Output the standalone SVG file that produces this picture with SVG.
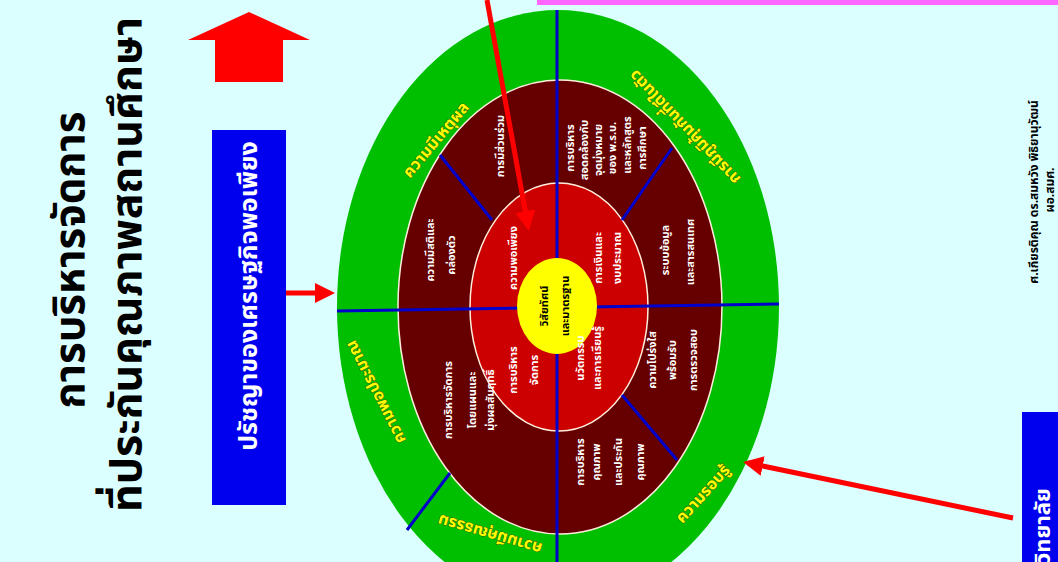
<svg xmlns="http://www.w3.org/2000/svg" width="1058" height="562" viewBox="0 0 1058 562">
<defs>
<style>
.t{font-family:"Noto Sans Thai","Noto Sans","DejaVu Sans",sans-serif;font-weight:bold;text-anchor:middle;dominant-baseline:central}
.title{fill:#000}
.w{font-size:11px;fill:#fff}
.y{font-size:16px;fill:#ffff00;stroke:#4a4a00;stroke-width:0.8px;paint-order:stroke}
.k{font-size:11px;fill:#000}
.bl{stroke:#0000cc;stroke-width:3;fill:none}
.ra{stroke:#ff0000;stroke-width:5;fill:none}
</style>
<marker id="ah" markerWidth="4" markerHeight="4" refX="3" refY="2" orient="auto" markerUnits="strokeWidth">
<path d="M0,0 L4,2 L0,4 z" fill="#ff0000"/>
</marker>
</defs>
<rect width="1058" height="562" fill="#dbffff"/>
<rect x="537" y="0" width="521" height="5" fill="#ff66ff"/>

<g id="title">
<text class="t title" style="font-size:42px" transform="translate(71,260) rotate(-90)">การบริหารจัดการ</text>
<text class="t title" style="font-size:43px;text-anchor:start" transform="translate(127,512) rotate(-90)">ที่ประกันคุณภาพสถานศึกษา</text>
</g>

<g id="up-arrow">
<path d="M188,40 L249,12 L310,40 L283,40 L283,82 L215,82 L215,40 z" fill="#ff0000"/>
</g>

<g id="philosophy-box">
<rect x="212" y="130" width="74" height="375" fill="#0000ee"/>
<text class="t" style="font-size:25px;fill:#fff" transform="translate(249,296) rotate(-90)">ปรัชญาของเศรษฐกิจพอเพียง</text>
</g>

<g id="wheel">
<ellipse cx="558" cy="307" rx="221" ry="297" fill="#00bf00"/>
<ellipse cx="560" cy="307" rx="162" ry="227" fill="#660000" stroke="#ffeedd" stroke-width="1.5"/>
<ellipse cx="559" cy="307" rx="89" ry="124" fill="#cc0000" stroke="#ffeedd" stroke-width="1.5"/>
</g>

<g id="dividers">
<line class="bl" x1="557" y1="10" x2="557" y2="562"/>
<line class="bl" x1="337" y1="311" x2="779" y2="304"/>
<line class="bl" x1="440" y1="155" x2="492" y2="220"/>
<line class="bl" x1="672" y1="148" x2="622" y2="220"/>
<line class="bl" x1="622" y1="395" x2="677" y2="460"/>
<line class="bl" x1="450" y1="473" x2="407" y2="530"/>
</g>

<g id="center">
<ellipse cx="557" cy="306" rx="40" ry="48" fill="#ffff00"/>
<text class="t k" transform="translate(544,306) rotate(-90)">วิสัยทัศน์</text>
<text class="t k" transform="translate(565,306) rotate(-90)">และมาตรฐาน</text>
</g>

<g id="green-ring-labels">
<text class="t y" transform="translate(436,140) rotate(-50)">ความมีเหตุผล</text>
<text class="t y" transform="translate(685,127) rotate(226)">การมีภูมิคุ้มกันที่ดีในตัว</text>
<text class="t y" transform="translate(376,392) rotate(-117)">ความพอประมาณ</text>
<text class="t y" transform="translate(490,534) rotate(196)">ความมีคุณธรรม</text>
<text class="t y" transform="translate(703,494) rotate(-48)">ความรอบรู้</text>
</g>

<g id="outer-sectors">
<g id="s-sati">
<text class="t w" transform="translate(430,250) rotate(-90)">ความมีสติและ</text>
<text class="t w" transform="translate(451,255) rotate(-90)">คล่องตัว</text>
</g>
<g id="s-participation">
<text class="t w" transform="translate(500,146) rotate(-90)">การมีส่วนร่วม</text>
</g>
<g id="s-law">
<text class="t w" transform="translate(570,148) rotate(-90)">การบริหาร</text>
<text class="t w" transform="translate(584,150) rotate(-90)">สอดคล้องกับ</text>
<text class="t w" transform="translate(598,150) rotate(-90)">จุดมุ่งหมาย</text>
<text class="t w" transform="translate(612,148) rotate(-90)">ของ พ.ร.บ.</text>
<text class="t w" transform="translate(627,145) rotate(-90)">และหลักสูตร</text>
<text class="t w" transform="translate(642,148) rotate(-90)">การศึกษา</text>
</g>
<g id="s-info">
<text class="t w" transform="translate(665,250) rotate(-90)">ระบบข้อมูล</text>
<text class="t w" transform="translate(690,252) rotate(-90)">และสารสนเทศ</text>
</g>
<g id="s-transparency">
<text class="t w" transform="translate(652,360) rotate(-90)">ความโปร่งใส</text>
<text class="t w" transform="translate(672,360) rotate(-90)">พร้อมรับ</text>
<text class="t w" transform="translate(693,360) rotate(-90)">การตรวจสอบ</text>
</g>
<g id="s-quality">
<text class="t w" transform="translate(580,462) rotate(-90)">การบริหาร</text>
<text class="t w" transform="translate(596,462) rotate(-90)">คุณภาพ</text>
<text class="t w" transform="translate(618,462) rotate(-90)">และประกัน</text>
<text class="t w" transform="translate(640,462) rotate(-90)">คุณภาพ</text>
</g>
<g id="s-plan">
<text class="t w" transform="translate(448,400) rotate(-90)">การบริหารจัดการ</text>
<text class="t w" transform="translate(472,400) rotate(-90)">โดยแผนและ</text>
<text class="t w" transform="translate(490,400) rotate(-90)">มุ่งผลสัมฤทธิ์</text>
</g>
</g>

<g id="inner-sectors">
<g id="i-sufficiency">
<text class="t w" transform="translate(513,258) rotate(-90)">ความพอเพียง</text>
</g>
<g id="i-finance">
<text class="t w" transform="translate(598,258) rotate(-90)">การเงินและ</text>
<text class="t w" transform="translate(617,258) rotate(-90)">งบประมาณ</text>
</g>
<g id="i-management">
<text class="t w" transform="translate(513,370) rotate(-90)">การบริหาร</text>
<text class="t w" transform="translate(534,370) rotate(-90)">จัดการ</text>
</g>
<g id="i-innovation">
<text class="t w" transform="translate(580,358) rotate(-90)">นวัตกรรม</text>
<text class="t w" transform="translate(597,358) rotate(-90)">และการเรียนรู้</text>
</g>
</g>

<g id="author">
<text class="t" style="font-size:12px;fill:#000" transform="translate(1034,192) rotate(-90)">ศ.เกียรติคุณ ดร.สมหวัง พิธิยานุวัฒน์</text>
<text class="t" style="font-size:12px;fill:#000" transform="translate(1050,190) rotate(-90)">ผอ.สมศ.</text>
</g>

<g id="college-box">
<rect x="1022" y="412" width="40" height="155" fill="#0000ee"/>
<text class="t" style="font-size:22px;fill:#fff;text-anchor:start" transform="translate(1043,564) rotate(-90)">วิทยาลัย</text>
</g>

<g id="connectors">
<line class="ra" x1="487" y1="0" x2="528" y2="226" marker-end="url(#ah)"/>
<line class="ra" x1="286" y1="293" x2="330" y2="293" marker-end="url(#ah)"/>
<line class="ra" x1="1013" y1="518" x2="748" y2="463" marker-end="url(#ah)"/>
</g>
</svg>
